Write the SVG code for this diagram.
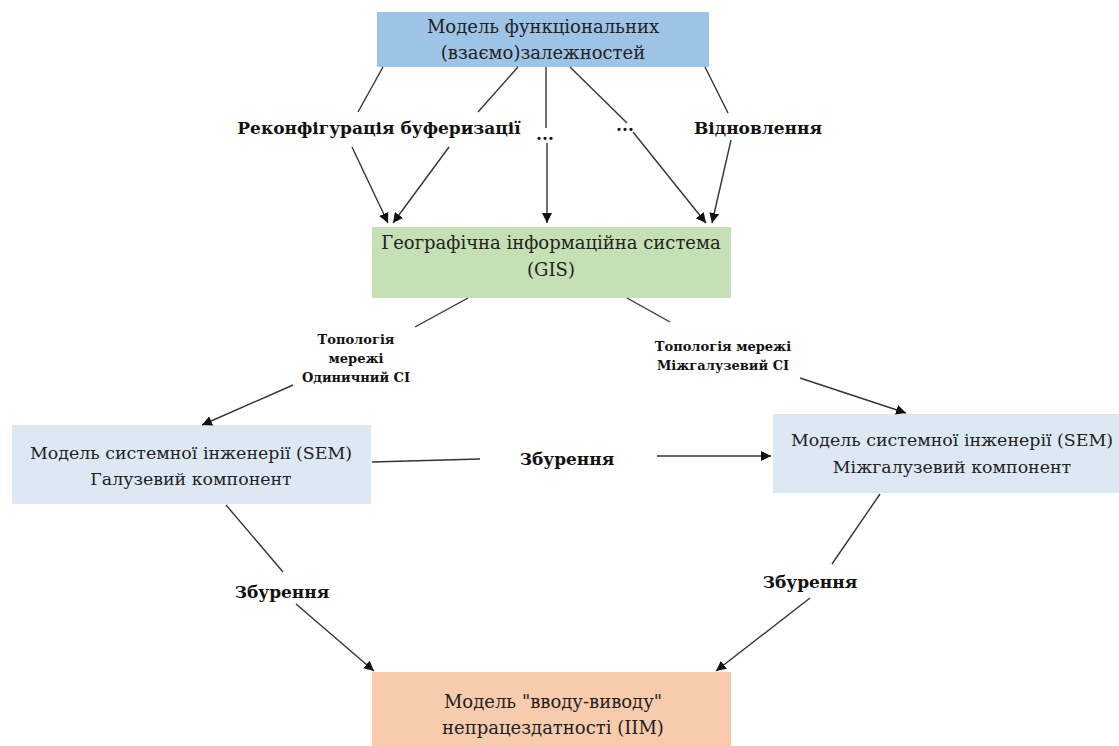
<svg xmlns="http://www.w3.org/2000/svg" width="1119" height="746" viewBox="0 0 1119 746">
<style>
.box{stroke:none}
.t{font-family:"DejaVu Serif","Liberation Serif",serif;font-size:18px;fill:#222;text-anchor:middle}
.t2{font-family:"DejaVu Serif","Liberation Serif",serif;font-size:17.4px;fill:#222;text-anchor:middle}
.b{font-family:"DejaVu Serif","Liberation Serif",serif;font-size:17px;font-weight:bold;fill:#111;text-anchor:middle}
.s{font-family:"DejaVu Serif","Liberation Serif",serif;font-size:13px;font-weight:bold;fill:#111;text-anchor:middle}
.c line{stroke:#333;stroke-width:1.4}
</style>
<defs>
<marker id="ah" viewBox="0 0 10 10" refX="10" refY="5" markerWidth="10" markerHeight="10" markerUnits="userSpaceOnUse" orient="auto">
<path d="M0,0 L10,5 L0,10 z" fill="#111"/>
</marker>
</defs>
<rect width="1119" height="746" fill="#fff"/>
<g id="n-func">
<rect class="box" x="377" y="12" width="332" height="55" fill="#9DC3E6"/>
<text class="t" x="543" y="33">Модель функціональних</text>
<text class="t" x="543" y="59">(взаємо)залежностей</text>
</g>
<g id="n-gis">
<rect class="box" x="372" y="227" width="359" height="71" fill="#C5E0B4"/>
<text class="t" x="551" y="249">Географічна інформаційна система</text>
<text class="t" x="551" y="276">(GIS)</text>
</g>
<g id="n-sem1">
<rect class="box" x="12" y="425" width="359" height="79" fill="#DDE8F5"/>
<text class="t2" x="191" y="459">Модель системної інженерії (SEM)</text>
<text class="t2" x="191" y="485">Галузевий компонент</text>
</g>
<g id="n-sem2">
<rect class="box" x="773" y="414" width="346" height="79" fill="#DDE8F5"/>
<text class="t2" x="952" y="446">Модель системної інженерії (SEM)</text>
<text class="t2" x="952" y="473">Міжгалузевий компонент</text>
</g>
<g id="n-iim">
<rect class="box" x="372" y="672" width="359" height="74" fill="#F8CBAD"/>
<text class="t" x="553" y="708">Модель "вводу-виводу"</text>
<text class="t" x="553" y="734">непрацездатності (IIM)</text>
</g>
<g id="connectors" class="c">
<line x1="383" y1="67" x2="358" y2="112"/>
<line x1="352" y1="147" x2="388" y2="223" marker-end="url(#ah)"/>
<line x1="518" y1="67" x2="478" y2="112"/>
<line x1="449" y1="147" x2="393" y2="223" marker-end="url(#ah)"/>
<line x1="546" y1="67" x2="546" y2="128"/>
<line x1="547" y1="143" x2="547" y2="223" marker-end="url(#ah)"/>
<line x1="570" y1="67" x2="627" y2="123"/>
<line x1="633" y1="132" x2="706" y2="223" marker-end="url(#ah)"/>
<line x1="705" y1="67" x2="728" y2="113"/>
<line x1="731" y1="140" x2="712" y2="223" marker-end="url(#ah)"/>
<line x1="468" y1="298" x2="415" y2="327"/>
<line x1="293" y1="385" x2="202" y2="425" marker-end="url(#ah)"/>
<line x1="627" y1="298" x2="670" y2="322"/>
<line x1="800" y1="378" x2="906" y2="413" marker-end="url(#ah)"/>
<line x1="372" y1="462" x2="480" y2="459"/>
<line x1="657" y1="456" x2="771" y2="456" marker-end="url(#ah)"/>
<line x1="226" y1="505" x2="283" y2="572"/>
<line x1="296" y1="604" x2="374" y2="671" marker-end="url(#ah)"/>
<line x1="880" y1="494" x2="832" y2="564"/>
<line x1="810" y1="598" x2="716" y2="671" marker-end="url(#ah)"/>
</g>
<g id="labels">
<text class="b" x="379" y="134">Реконфігурація буферизації</text>
<text class="b" x="545" y="140">...</text>
<text class="b" x="625" y="131">...</text>
<text class="b" x="758" y="134">Відновлення</text>
<text class="s" x="356" y="344">Топологія</text>
<text class="s" x="356" y="363">мережі</text>
<text class="s" x="356" y="382">Одиничний СІ</text>
<text class="s" x="723" y="351">Топологія мережі</text>
<text class="s" x="723" y="370">Міжгалузевий СІ</text>
<text class="b" x="567" y="465">Збурення</text>
<text class="b" x="282" y="598">Збурення</text>
<text class="b" x="810" y="588">Збурення</text>
</g>
</svg>
